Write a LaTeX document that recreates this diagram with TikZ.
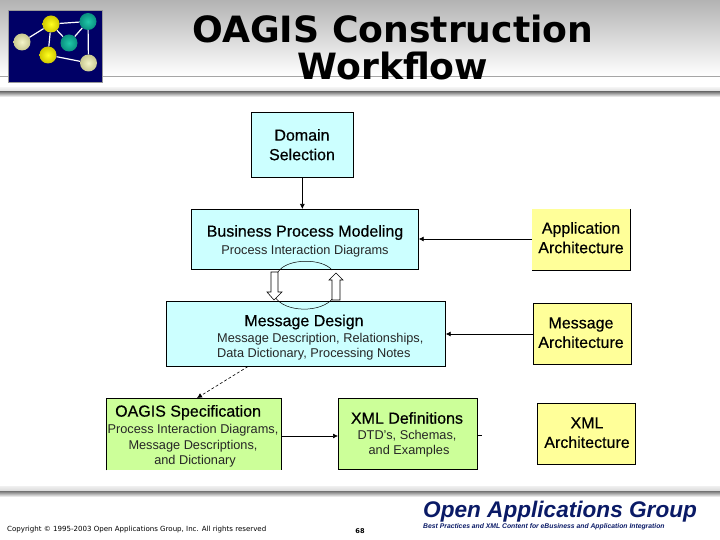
\documentclass[tikz,border=0pt]{standalone}
\usepackage{fontspec}
\setmainfont{Liberation Sans}
\newfontfamily\titlefont{DejaVu Sans}
\newfontfamily\medfont{Liberation Sans}[RawFeature={embolden=0.5}]
\usetikzlibrary{arrows.meta}
\definecolor{cyanbox}{HTML}{CCFFFF}
\definecolor{greenbox}{HTML}{CCFF99}
\definecolor{yellowbox}{HTML}{FFFF99}
\definecolor{navypanel}{HTML}{000066}
\definecolor{oagblue}{HTML}{0A1A66}
\definecolor{tealin}{HTML}{20C8A8}
\definecolor{tealout}{HTML}{0A9080}
\definecolor{palein}{HTML}{F4F4C8}
\definecolor{paleout}{HTML}{C8C890}
\definecolor{yellin}{HTML}{FFFF20}
\definecolor{yellout}{HTML}{D0C800}
\tikzset{
  boxbase/.style={inner sep=0pt,anchor=north west},
  cyanframe/.style={boxbase,draw=black,line width=.7pt,fill=cyanbox},
  yellowframe/.style={boxbase,draw=black,line width=.7pt,fill=yellowbox},
  greenframe/.style={boxbase,draw=black,line width=.7pt,fill=greenbox},
  head/.style={font=\medfont\fontsize{16}{18}\selectfont,text=black,inner sep=0pt},
  sub/.style={font=\fontsize{12.75}{15}\selectfont,text=black!85,inner sep=0pt},
  lbl/.style={font=\medfont\fontsize{16}{19.5}\selectfont,text=black,align=center,inner sep=0pt},
  conn/.style={draw=black,line width=.7pt,-{Latex[length=5pt,width=5pt]}},
  hollow/.style={draw=black,line width=.6pt,fill=white},
  bond/.style={draw=white,line width=1.2pt},
  ball/.style={circle,minimum size=17pt,inner sep=0pt},
  yball/.style={ball,inner color=yellin,outer color=yellout},
  tball/.style={ball,inner color=tealin,outer color=tealout},
  pball/.style={ball,inner color=palein,outer color=paleout},
}
\begin{document}
\begin{tikzpicture}[x=1pt,y=-1pt]
\useasboundingbox (0,0) rectangle (720,540);
\fill[white] (0,0) rectangle (720,540);
% header shading
\shade[top color=black!30,bottom color=white] (0,0) rectangle (720,76);
\draw[black!35,line width=.7pt] (0,76.5) -- (720,76.5);
\shade[top color=black!6,bottom color=black!15] (0,88) rectangle (720,92);
\shade[top color=black!50,bottom color=white] (0,92) rectangle (720,97);
% footer bands
\shade[top color=black!6,bottom color=black!15] (0,486) rectangle (720,491);
\shade[top color=black!55,bottom color=white] (0,491) rectangle (720,497);
% logo
\draw[draw=black!40,fill=navypanel,line width=.7pt] (8,10) rectangle (102,82);
\node[yball] (b1) at (51,24) {};
\node[tball] (b2) at (88,21.5) {};
\node[tball] (b3) at (69,43) {};
\node[pball] (b4) at (22,42) {};
\node[yball] (b5) at (48,55) {};
\node[pball] (b6) at (88.5,63) {};
\draw[bond] (b1)--(b2) (b1)--(b3) (b1)--(b4) (b1)--(b5) (b2)--(b3) (b2)--(b6) (b5)--(b6);
% title
\node[font=\titlefont\bfseries\fontsize{36.2}{37}\selectfont,align=center,inner sep=0pt] (title) at (393,48) {OAGIS Construction\\Workflow};
% boxes
\node[cyanframe,minimum width=102pt,minimum height=65pt] (dom) at (251,112) {};
\node[cyanframe,minimum width=227pt,minimum height=60pt] (bpm) at (191,209) {};
\node[cyanframe,minimum width=279pt,minimum height=65pt] (md) at (166,301) {};
\node[boxbase,fill=greenbox,minimum width=175pt,minimum height=72pt] (spec) at (106,398) {};
\draw[black,line width=.7pt] (spec.south west) -- (spec.north west) -- (spec.north east) -- (spec.south east);
\node[greenframe,minimum width=139pt,minimum height=71pt] (xdef) at (338,398) {};
\node[boxbase,fill=yellowbox,minimum width=98pt,minimum height=61pt] (app) at (532,209) {};
\draw[black,line width=.7pt] (app.north east) -- (app.south east) -- (app.south west);
\node[yellowframe,minimum width=98pt,minimum height=61pt] (marc) at (533,303) {};
\node[yellowframe,minimum width=98pt,minimum height=61pt] (xarc) at (537,403) {};
% labels
\node[lbl] (domt) at (302,144.7) {Domain\\Selection};
\node[head] (bpmt) at (305,232.5) {Business Process Modeling};
\node[sub] (bpms) at (305,251) {Process Interaction Diagrams};
\node[head] (mdt) at (304,322) {Message Design};
\node[sub,anchor=west] (mds1) at (217,339.5) {Message Description, Relationships,};
\node[sub,anchor=west] (mds2) at (217,354) {Data Dictionary, Processing Notes};
\node[head,anchor=west] (spect) at (115,412.5) {OAGIS Specification};
\node[sub] (specs1) at (193,430) {Process Interaction Diagrams,};
\node[sub] (specs2) at (193,446) {Message Descriptions,};
\node[sub] (specs3) at (195,461) {and Dictionary};
\node[head] (xdeft) at (407,418) {XML Definitions};
\node[sub] (xdefs1) at (407,436) {DTD's, Schemas,};
\node[sub] (xdefs2) at (409,451) {and Examples};
\node[lbl] (appt) at (581,237.7) {Application\\Architecture};
\node[lbl] (marct) at (581,332.7) {Message\\Architecture};
\node[lbl] (xarct) at (587,432.7) {XML\\Architecture};
% connectors
\draw[conn] (dom.south) -- (dom.south |- bpm.north);
\coordinate (bpmR) at (bpm.east |- 0,239);
\coordinate (appL) at (app.west |- 0,239);
\draw[conn] (appL) -- (bpmR);
\coordinate (mdR) at (md.east |- 0,334);
\coordinate (marcL) at (marc.west |- 0,334);
\draw[conn] (marcL) -- (mdR);
\coordinate (specR) at (spec.east |- 0,436);
\coordinate (xdefL) at (xdef.west |- 0,436);
\draw[conn] (specR) -- (xdefL);
\coordinate (mdB) at (248,366.5);
\coordinate (specT) at (197,398);
\draw[draw=black,line width=.6pt,densely dashed,-{Latex[length=5pt,width=5pt]}] (mdB) -- (specT);
\coordinate (xdefR) at (xdef.east |- 0,435);
\coordinate (stub) at (482,435);
\draw[black,line width=.7pt] (xdefR) -- (stub);
% cycle
\draw[hollow,fill=none,line width=.5pt] (278,272) .. controls (287,258) and (322,258) .. (332,270);
\draw[hollow,fill=none,line width=.5pt] (275,297) .. controls (285,313) and (322,313) .. (333,298);
\path[hollow] (271,272) -- (278,272) -- (278,292) -- (282,292) -- (274,300) -- (267,292) -- (271,292) -- cycle;
\path[hollow] (332,300) -- (340,300) -- (340,280) -- (343,280) -- (336,273) -- (329,280) -- (332,280) -- cycle;
% footer
\node[font=\titlefont\fontsize{7.05}{8}\selectfont,anchor=west,inner sep=0pt] (copy) at (7,530) {Copyright © 1995-2003 Open Applications Group, Inc. All rights reserved};
\node[font=\titlefont\fontsize{6.6}{8}\selectfont\bfseries,inner sep=0pt] (pg) at (360,531) {68};
\node[font=\fontsize{22.6}{25}\selectfont\bfseries\itshape,text=oagblue,anchor=west,inner sep=0pt] (oag) at (423,512) {Open Applications Group};
\node[font=\fontsize{6.8}{7}\selectfont\bfseries\itshape,text=oagblue,anchor=west,inner sep=0pt] (tag) at (423,527) {Best Practices and XML Content for eBusiness and Application Integration};
\end{tikzpicture}
\end{document}
